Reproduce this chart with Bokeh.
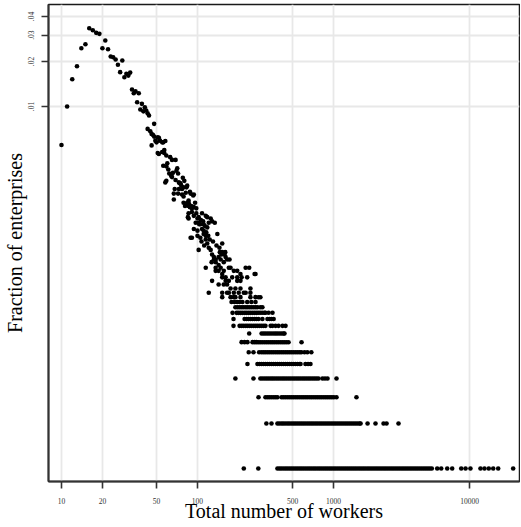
from bokeh.plotting import figure
from bokeh.models import FixedTicker, Range1d, CustomJSTickFormatter, ColumnDataSource
from bokeh.embed import file_html
from bokeh.resources import INLINE

TOTAL_ENTERPRISES = 26400

x_ticks = [10, 20, 50, 100, 500, 1000, 10000]
y_ticks = [0.01, 0.02, 0.03, 0.04]

# sizes (workers) with many enterprises: (workers, number of enterprises)
cloud_workers = [10, 11, 12, 13, 14, 15, 16, 17, 18, 19, 20, 21, 22, 23, 24, 25, 26, 27, 28, 29,
                 30, 31, 32, 33, 34, 35, 36, 37, 38, 39, 40, 41, 42, 43, 44,
                 43, 45, 46, 47, 48, 48, 49, 46, 51, 52, 53, 50, 55, 56, 58, 57, 51, 52, 55, 57,
                 59, 63, 65, 69, 56, 59, 71, 62, 64, 65, 58, 59, 72, 69, 73, 74, 76, 79, 73, 68,
                 67, 72, 83, 89, 93, 77, 79, 67, 79, 84, 88, 91, 86, 91, 94, 108, 115, 125, 128,
                 100, 102, 105, 94, 100, 108, 111, 118, 140, 91, 100, 105, 84, 87, 90, 94, 85, 98,
                 102, 118, 97, 103, 111, 121, 134, 89, 111, 115, 115, 118, 121, 125, 102, 152, 128,
                 132, 136, 143, 152, 158, 165, 127, 136, 143, 148, 156, 172, 132, 161, 82, 75, 77,
                 84, 88, 94, 86, 86, 81, 86, 86, 60, 61, 66, 70, 78, 80, 96, 98, 106, 110, 113,
                 116, 120, 123, 130, 138, 145, 146, 150, 160, 112, 107]
cloud_counts = [146, 264, 402, 491, 648, 689, 881, 855, 821, 808, 648, 729, 638, 570, 564, 544, 502, 448, 536, 414,
                437, 425, 445, 343, 324, 334, 282, 324, 252, 275, 245, 261, 248, 238, 230,
                187, 180, 173, 171, 166, 202, 156, 145, 164, 163, 156, 152, 152, 152, 155, 135, 129, 127, 131, 129,
                124, 121, 116, 116, 106, 105, 102, 94, 91, 89, 82, 84, 94, 85, 82, 81, 78, 76, 74, 74,
                69, 69, 76, 69, 67, 68, 66, 63, 60, 58, 56, 55, 51, 52, 49, 51, 49, 47, 45,
                47, 44, 43, 40, 39, 40, 39, 41, 37, 35, 36, 35, 60, 58, 57, 56, 48, 51,
                48, 48, 44, 43, 43, 44, 44, 35, 37, 36, 34, 32, 30, 29, 29, 32, 27,
                26, 25, 26, 28, 27, 25, 24, 24, 23, 25, 24, 25, 25, 26, 70, 81, 74,
                78, 71, 68, 62, 60, 57, 57, 47, 110, 100, 95, 98, 88, 84, 60, 55, 46, 45, 42,
                38, 36, 34, 33, 31, 30, 28, 27, 28, 31, 33]

# sizes held by 11 to 22 enterprises
mid_workers = [181, 194, 200, 207, 214, 222, 229, 237, 245, 254, 263, 272, 281, 290, 300, 311, 316, 333, 356,
               190, 197, 204, 211, 218, 226, 233, 241, 249, 258, 267, 276, 290, 300,
               178, 187, 196, 204, 214, 232, 249, 267,
               152, 175, 185, 190, 207, 245, 267, 281, 290,
               121, 152, 165, 170, 185, 201, 219, 226, 245,
               175, 190, 207, 245,
               143, 156, 165,
               128, 161, 170, 196, 207,
               152, 161, 180, 196, 211, 232,
               152, 207, 263, 267,
               136, 143, 156, 185, 196,
               115, 136, 148, 170, 175, 226, 240]
mid_counts = [11] * 19 + [12] * 14 + [13] * 8 + [14] * 9 + [15] * 9 + [16] * 4 + [17] * 3 + \
             [18] * 5 + [19] * 6 + [20] * 4 + [21] * 5 + [22] * 7

workers_with_1 = [219, 280, 387, 401, 414, 429, 444, 459, 475, 491, 508, 526, 544, 563, 582, 602, 623, 645,
                  667, 690, 714, 738, 764, 790, 817, 846, 875, 905, 936, 968, 1002, 1036, 1072, 1109, 1147,
                  1187, 1228, 1270, 1314, 1359, 1406, 1454, 1505, 1557, 1610, 1666, 1723, 1783, 1844, 1908,
                  1974, 2042, 2112, 2185, 2261, 2339, 2419, 2503, 2589, 2679, 2771, 2867, 2966, 3068, 3174,
                  3284, 3397, 3514, 3636, 3761, 3891, 4025, 4164, 4308, 4457, 4611, 4770, 4934, 5105, 5281,
                  5788, 6194, 6856, 7460, 8690, 9350, 10160, 12040, 12890, 13860, 14940, 16250, 20940]
workers_with_2 = [321, 350, 387, 400, 415, 428, 443, 459, 474, 491, 508, 525, 543, 562, 581, 601, 622, 644,
                  666, 689, 712, 737, 762, 789, 816, 844, 873, 903, 934, 967, 1000, 1034, 1070, 1107, 1145,
                  1185, 1226, 1268, 1312, 1357, 1404, 1452, 1502, 1554, 1581, 1780, 2036, 2333, 2455, 3006]
workers_with_3 = [281, 316, 327, 338, 350, 363, 375, 387, 415, 429, 444, 460, 476, 492, 509, 527, 545, 564,
                  584, 604, 625, 646, 669, 692, 716, 741, 766, 793, 820, 849, 878, 908, 940, 972, 1006, 1052, 1475]
workers_with_4 = [190, 258, 290, 300, 311, 322, 333, 345, 356, 368, 381, 394, 408, 422, 436, 451, 467, 483,
                  500, 517, 535, 553, 572, 592, 612, 633, 655, 677, 701, 725, 750, 776, 830, 866, 904, 1052]
workers_with_5 = [233, 276, 286, 296, 306, 316, 327, 338, 350, 362, 375, 387, 401, 415, 429, 444, 459, 475,
                  491, 508, 526, 544, 563, 572, 622, 650, 677]
workers_with_6 = [238, 258, 284, 296, 306, 316, 327, 338, 350, 362, 375, 388, 401, 415, 429, 444, 459, 475,
                  491, 508, 526, 544, 563, 580, 612, 642, 687]
workers_with_7 = [211, 222, 233, 254, 263, 272, 281, 290, 300, 311, 322, 333, 345, 356, 368, 381, 394, 408,
                  422, 436, 451, 467, 582]
workers_with_8 = [240, 296, 306, 316, 327, 338, 350, 363, 375, 387, 401, 415, 429, 436]
workers_with_9 = [184, 204, 211, 218, 226, 233, 241, 249, 258, 267, 276, 286, 296, 306, 316, 345, 356, 375,
                  394, 422, 444]
workers_with_10 = [184, 222, 229, 237, 245, 254, 263, 272, 281, 300, 327, 338, 350, 363]

workers = list(cloud_workers) + list(mid_workers)
counts = list(cloud_counts) + list(mid_counts)
for k, lst in enumerate([workers_with_1, workers_with_2, workers_with_3, workers_with_4, workers_with_5,
                         workers_with_6, workers_with_7, workers_with_8, workers_with_9, workers_with_10],
                        start=1):
    workers += lst
    counts += [k] * len(lst)
fraction = [c / TOTAL_ENTERPRISES for c in counts]

source = ColumnDataSource(data=dict(workers=workers, fraction=fraction))

FONT = "Liberation Serif"

p = figure(width=520, height=524, x_axis_type="log", y_axis_type="log",
           x_range=Range1d(8.027, 23310), y_range=Range1d(3.101e-5, 0.04811),
           output_backend="svg", toolbar_location=None,
           min_border_left=48, min_border_right=1, min_border_top=4, min_border_bottom=43)

p.scatter("workers", "fraction", source=source, size=4.6, color="black", line_width=0)

p.background_fill_color = "white"
p.border_fill_color = "white"
p.outline_line_color = "#1a1a1a"
p.outline_line_width = 1.5

xt = FixedTicker(ticks=x_ticks, minor_ticks=[])
yt = FixedTicker(ticks=y_ticks, minor_ticks=[])
p.xaxis.ticker = xt
p.yaxis.ticker = yt
p.xgrid.ticker = xt
p.ygrid.ticker = yt
p.grid.grid_line_color = "#e8e8e8"
p.grid.grid_line_width = 1.8
p.grid.minor_grid_line_color = None

p.xaxis.formatter = CustomJSTickFormatter(code="return Math.round(tick).toString();")
p.yaxis.formatter = CustomJSTickFormatter(code="return tick.toFixed(2).replace(/^0/, '');")

for ax in (p.xaxis, p.yaxis):
    ax.axis_line_color = "#333333"
    ax.axis_line_width = 2
    ax.major_tick_line_color = "#333333"
    ax.major_tick_line_width = 1.6
    ax.major_tick_out = 7
    ax.major_tick_in = 0
    ax.minor_tick_out = 0
    ax.minor_tick_in = 0
    ax.major_label_text_font = FONT
    ax.major_label_text_font_size = "7.5px"
    ax.major_label_text_color = "#333333"
    ax.axis_label_text_font = FONT
    ax.axis_label_text_font_size = "20px"
    ax.axis_label_text_font_style = "normal"
    ax.axis_label_text_color = "black"

p.xaxis.major_label_standoff = 9
p.yaxis.major_label_standoff = 7
p.xaxis.axis_label = "Total number of workers"
p.yaxis.axis_label = "Fraction of enterprises"
p.yaxis.major_label_orientation = "vertical"
p.xaxis.axis_label_standoff = -7
p.yaxis.axis_label_standoff = 0

open("out.html", "w").write(file_html(p, INLINE))
